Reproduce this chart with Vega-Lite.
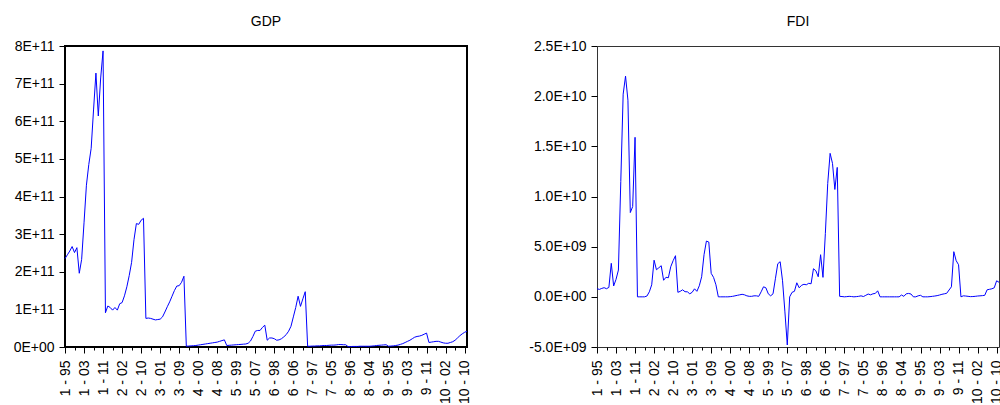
{
  "$schema": "https://vega.github.io/schema/vega-lite/v6.json",
  "background": "white",
  "padding": {"left": 12, "top": 14, "right": 0, "bottom": 0},
  "config": {
    "font": "Liberation Sans",
    "view": {"stroke": null},
    "axis": {"labelFont": "Liberation Sans", "labelFontSize": 14, "labelColor": "black", "tickColor": "black", "tickWidth": 1, "grid": false, "domain": false, "title": null, "labelFlush": false, "labelOverlap": false, "labelBound": false},
    "title": {"font": "Liberation Sans", "fontSize": 14, "fontWeight": "normal", "color": "black", "offset": 10, "anchor": "middle"},
    "concat": {"spacing": 55}
  },
  "data": {"values": [
    {"obs":"1 - 95","GDP":2.35e11,"FDI":0.81e9},
    {"obs":"1 - 96","GDP":2.45e11,"FDI":0.74e9},
    {"obs":"1 - 97","GDP":2.55e11,"FDI":0.84e9},
    {"obs":"1 - 98","GDP":2.67e11,"FDI":0.91e9},
    {"obs":"1 - 99","GDP":2.51e11,"FDI":0.81e9},
    {"obs":"1 - 00","GDP":2.64e11,"FDI":0.94e9},
    {"obs":"1 - 01","GDP":1.96e11,"FDI":3.34e9},
    {"obs":"1 - 02","GDP":2.33e11,"FDI":1.08e9},
    {"obs":"1 - 03","GDP":3.3e11,"FDI":1.74e9},
    {"obs":"1 - 04","GDP":4.3e11,"FDI":2.67e9},
    {"obs":"1 - 05","GDP":4.85e11,"FDI":11.5e9},
    {"obs":"1 - 06","GDP":5.28e11,"FDI":20.2e9},
    {"obs":"1 - 07","GDP":6.3e11,"FDI":22.0e9},
    {"obs":"1 - 08","GDP":7.28e11,"FDI":19.6e9},
    {"obs":"1 - 09","GDP":6.14e11,"FDI":8.4e9},
    {"obs":"1 - 10","GDP":7.15e11,"FDI":9.0e9},
    {"obs":"1 - 11","GDP":7.87e11,"FDI":15.9e9},
    {"obs":"2 - 95","GDP":0.91e11,"FDI":0},
    {"obs":"2 - 96","GDP":1.09e11,"FDI":0},
    {"obs":"2 - 97","GDP":1.05e11,"FDI":0},
    {"obs":"2 - 98","GDP":0.98e11,"FDI":0},
    {"obs":"2 - 99","GDP":1.05e11,"FDI":0.08e9},
    {"obs":"2 - 00","GDP":0.98e11,"FDI":0.5e9},
    {"obs":"2 - 01","GDP":1.15e11,"FDI":1.2e9},
    {"obs":"2 - 02","GDP":1.18e11,"FDI":3.65e9},
    {"obs":"2 - 03","GDP":1.36e11,"FDI":2.7e9},
    {"obs":"2 - 04","GDP":1.6e11,"FDI":2.9e9},
    {"obs":"2 - 05","GDP":1.9e11,"FDI":3.1e9},
    {"obs":"2 - 06","GDP":2.25e11,"FDI":1.65e9},
    {"obs":"2 - 07","GDP":2.85e11,"FDI":1.95e9},
    {"obs":"2 - 08","GDP":3.28e11,"FDI":1.9e9},
    {"obs":"2 - 09","GDP":3.26e11,"FDI":3.0e9},
    {"obs":"2 - 10","GDP":3.37e11,"FDI":3.6e9},
    {"obs":"2 - 11","GDP":3.42e11,"FDI":4.1e9},
    {"obs":"3 - 95","GDP":0.76e11,"FDI":0.45e9},
    {"obs":"3 - 96","GDP":0.77e11,"FDI":0.55e9},
    {"obs":"3 - 97","GDP":0.76e11,"FDI":0.7e9},
    {"obs":"3 - 98","GDP":0.74e11,"FDI":0.51e9},
    {"obs":"3 - 99","GDP":0.72e11,"FDI":0.5e9},
    {"obs":"3 - 00","GDP":0.73e11,"FDI":0.3e9},
    {"obs":"3 - 01","GDP":0.74e11,"FDI":0.45e9},
    {"obs":"3 - 02","GDP":0.8e11,"FDI":0.8e9},
    {"obs":"3 - 03","GDP":0.93e11,"FDI":0.55e9},
    {"obs":"3 - 04","GDP":1.07e11,"FDI":1.1e9},
    {"obs":"3 - 05","GDP":1.2e11,"FDI":2.0e9},
    {"obs":"3 - 06","GDP":1.35e11,"FDI":4.2e9},
    {"obs":"3 - 07","GDP":1.5e11,"FDI":5.56e9},
    {"obs":"3 - 08","GDP":1.62e11,"FDI":5.46e9},
    {"obs":"3 - 09","GDP":1.63e11,"FDI":2.34e9},
    {"obs":"3 - 10","GDP":1.72e11,"FDI":1.94e9},
    {"obs":"3 - 11","GDP":1.88e11,"FDI":1.2e9},
    {"obs":"4 - 95","GDP":0.02e11,"FDI":0},
    {"obs":"4 - 96","GDP":0.025e11,"FDI":0},
    {"obs":"4 - 97","GDP":0.03e11,"FDI":0},
    {"obs":"4 - 98","GDP":0.035e11,"FDI":0},
    {"obs":"4 - 99","GDP":0.04e11,"FDI":0},
    {"obs":"4 - 00","GDP":0.05e11,"FDI":0.02e9},
    {"obs":"4 - 01","GDP":0.06e11,"FDI":0.05e9},
    {"obs":"4 - 02","GDP":0.07e11,"FDI":0.1e9},
    {"obs":"4 - 03","GDP":0.08e11,"FDI":0.15e9},
    {"obs":"4 - 04","GDP":0.09e11,"FDI":0.2e9},
    {"obs":"4 - 05","GDP":0.1e11,"FDI":0.25e9},
    {"obs":"4 - 06","GDP":0.11e11,"FDI":0.2e9},
    {"obs":"4 - 07","GDP":0.12e11,"FDI":0.1e9},
    {"obs":"4 - 08","GDP":0.13e11,"FDI":0.05e9},
    {"obs":"4 - 09","GDP":0.15e11,"FDI":0.05e9},
    {"obs":"4 - 10","GDP":0.17e11,"FDI":0.1e9},
    {"obs":"4 - 11","GDP":0.19e11,"FDI":0.1e9},
    {"obs":"5 - 95","GDP":0.04e11,"FDI":0.05e9},
    {"obs":"5 - 96","GDP":0.045e11,"FDI":0.5e9},
    {"obs":"5 - 97","GDP":0.05e11,"FDI":1.0e9},
    {"obs":"5 - 98","GDP":0.055e11,"FDI":0.9e9},
    {"obs":"5 - 99","GDP":0.06e11,"FDI":0.3e9},
    {"obs":"5 - 00","GDP":0.065e11,"FDI":0.1e9},
    {"obs":"5 - 01","GDP":0.07e11,"FDI":0.3e9},
    {"obs":"5 - 02","GDP":0.075e11,"FDI":1.8e9},
    {"obs":"5 - 03","GDP":0.08e11,"FDI":3.3e9},
    {"obs":"5 - 04","GDP":0.1e11,"FDI":3.5e9},
    {"obs":"5 - 05","GDP":0.16e11,"FDI":1.6e9},
    {"obs":"5 - 06","GDP":0.28e11,"FDI":-1.5e9},
    {"obs":"5 - 07","GDP":0.42e11,"FDI":-4.8e9},
    {"obs":"5 - 08","GDP":0.44e11,"FDI":0},
    {"obs":"5 - 09","GDP":0.44e11,"FDI":0.45e9},
    {"obs":"5 - 10","GDP":0.52e11,"FDI":0.55e9},
    {"obs":"5 - 11","GDP":0.58e11,"FDI":1.4e9},
    {"obs":"6 - 95","GDP":0.18e11,"FDI":0.9e9},
    {"obs":"6 - 96","GDP":0.24e11,"FDI":1.15e9},
    {"obs":"6 - 97","GDP":0.24e11,"FDI":1.25e9},
    {"obs":"6 - 98","GDP":0.22e11,"FDI":1.2e9},
    {"obs":"6 - 99","GDP":0.18e11,"FDI":1.35e9},
    {"obs":"6 - 00","GDP":0.19e11,"FDI":1.3e9},
    {"obs":"6 - 01","GDP":0.22e11,"FDI":2.8e9},
    {"obs":"6 - 02","GDP":0.27e11,"FDI":2.6e9},
    {"obs":"6 - 03","GDP":0.33e11,"FDI":2.0e9},
    {"obs":"6 - 04","GDP":0.42e11,"FDI":4.2e9},
    {"obs":"6 - 05","GDP":0.55e11,"FDI":1.94e9},
    {"obs":"6 - 06","GDP":0.8e11,"FDI":6.3e9},
    {"obs":"6 - 07","GDP":1.05e11,"FDI":11.3e9},
    {"obs":"6 - 08","GDP":1.35e11,"FDI":14.3e9},
    {"obs":"6 - 09","GDP":1.08e11,"FDI":13.3e9},
    {"obs":"6 - 10","GDP":1.28e11,"FDI":10.7e9},
    {"obs":"6 - 11","GDP":1.47e11,"FDI":12.9e9},
    {"obs":"7 - 95","GDP":0.02e11,"FDI":0.05e9},
    {"obs":"7 - 96","GDP":0.02e11,"FDI":0.03e9},
    {"obs":"7 - 97","GDP":0.025e11,"FDI":0},
    {"obs":"7 - 98","GDP":0.025e11,"FDI":0.02e9},
    {"obs":"7 - 99","GDP":0.03e11,"FDI":0.05e9},
    {"obs":"7 - 00","GDP":0.03e11,"FDI":0.03e9},
    {"obs":"7 - 01","GDP":0.035e11,"FDI":0},
    {"obs":"7 - 02","GDP":0.04e11,"FDI":0.02e9},
    {"obs":"7 - 03","GDP":0.04e11,"FDI":0.05e9},
    {"obs":"7 - 04","GDP":0.045e11,"FDI":0.1e9},
    {"obs":"7 - 05","GDP":0.05e11,"FDI":0.03e9},
    {"obs":"7 - 06","GDP":0.05e11,"FDI":0.15e9},
    {"obs":"7 - 07","GDP":0.055e11,"FDI":0.28e9},
    {"obs":"7 - 08","GDP":0.065e11,"FDI":0.2e9},
    {"obs":"7 - 09","GDP":0.065e11,"FDI":0.3e9},
    {"obs":"7 - 10","GDP":0.06e11,"FDI":0.34e9},
    {"obs":"7 - 11","GDP":0.06e11,"FDI":0.6e9},
    {"obs":"8 - 95","GDP":0.01e11,"FDI":0},
    {"obs":"8 - 96","GDP":0.01e11,"FDI":0},
    {"obs":"8 - 97","GDP":0.015e11,"FDI":0},
    {"obs":"8 - 98","GDP":0.015e11,"FDI":0},
    {"obs":"8 - 99","GDP":0.015e11,"FDI":0},
    {"obs":"8 - 00","GDP":0.02e11,"FDI":0},
    {"obs":"8 - 01","GDP":0.02e11,"FDI":0},
    {"obs":"8 - 02","GDP":0.02e11,"FDI":0},
    {"obs":"8 - 03","GDP":0.02e11,"FDI":0},
    {"obs":"8 - 04","GDP":0.02e11,"FDI":0.18e9},
    {"obs":"8 - 05","GDP":0.025e11,"FDI":0.05e9},
    {"obs":"8 - 06","GDP":0.03e11,"FDI":0.3e9},
    {"obs":"8 - 07","GDP":0.04e11,"FDI":0.34e9},
    {"obs":"8 - 08","GDP":0.045e11,"FDI":0.28e9},
    {"obs":"8 - 09","GDP":0.05e11,"FDI":0},
    {"obs":"8 - 10","GDP":0.055e11,"FDI":0},
    {"obs":"8 - 11","GDP":0.06e11,"FDI":0.1e9},
    {"obs":"9 - 95","GDP":0.02e11,"FDI":0.15e9},
    {"obs":"9 - 96","GDP":0.025e11,"FDI":0},
    {"obs":"9 - 97","GDP":0.03e11,"FDI":0},
    {"obs":"9 - 98","GDP":0.04e11,"FDI":0},
    {"obs":"9 - 99","GDP":0.05e11,"FDI":0.02e9},
    {"obs":"9 - 00","GDP":0.07e11,"FDI":0.05e9},
    {"obs":"9 - 01","GDP":0.09e11,"FDI":0.08e9},
    {"obs":"9 - 02","GDP":0.12e11,"FDI":0.12e9},
    {"obs":"9 - 03","GDP":0.15e11,"FDI":0.18e9},
    {"obs":"9 - 04","GDP":0.18e11,"FDI":0.25e9},
    {"obs":"9 - 05","GDP":0.22e11,"FDI":0.3e9},
    {"obs":"9 - 06","GDP":0.26e11,"FDI":0.35e9},
    {"obs":"9 - 07","GDP":0.28e11,"FDI":0.68e9},
    {"obs":"9 - 08","GDP":0.29e11,"FDI":1.0e9},
    {"obs":"9 - 09","GDP":0.31e11,"FDI":4.5e9},
    {"obs":"9 - 10","GDP":0.34e11,"FDI":3.6e9},
    {"obs":"9 - 11","GDP":0.37e11,"FDI":3.2e9},
    {"obs":"10 - 95","GDP":0.12e11,"FDI":0},
    {"obs":"10 - 96","GDP":0.13e11,"FDI":0.1e9},
    {"obs":"10 - 97","GDP":0.14e11,"FDI":0.08e9},
    {"obs":"10 - 98","GDP":0.15e11,"FDI":0.05e9},
    {"obs":"10 - 99","GDP":0.15e11,"FDI":0.02e9},
    {"obs":"10 - 00","GDP":0.13e11,"FDI":0.03e9},
    {"obs":"10 - 01","GDP":0.11e11,"FDI":0.05e9},
    {"obs":"10 - 02","GDP":0.1e11,"FDI":0.08e9},
    {"obs":"10 - 03","GDP":0.1e11,"FDI":0.1e9},
    {"obs":"10 - 04","GDP":0.12e11,"FDI":0.12e9},
    {"obs":"10 - 05","GDP":0.14e11,"FDI":0.15e9},
    {"obs":"10 - 06","GDP":0.18e11,"FDI":0.7e9},
    {"obs":"10 - 07","GDP":0.24e11,"FDI":0.75e9},
    {"obs":"10 - 08","GDP":0.3e11,"FDI":0.8e9},
    {"obs":"10 - 09","GDP":0.35e11,"FDI":0.9e9},
    {"obs":"10 - 10","GDP":0.39e11,"FDI":1.6e9},
    {"obs":"10 - 11","GDP":0.42e11,"FDI":1.45e9}
  ]},
  "hconcat": [
    {
      "title": {"text": "GDP"},
      "width": 402,
      "height": 301,
      "view": {"stroke": "black", "strokeWidth": 2},
      "resolve": {"axis": {"x": "independent"}},
      "layer": [
        {
          "mark": {"type": "line", "color": "#0000ff", "strokeWidth": 1},
          "encoding": {
            "x": {"field": "obs", "type": "ordinal", "sort": null, "scale": {"type": "point", "padding": 0},
              "axis": {"orient": "bottom", "labelAngle": -90, "tickSize": 6, "labelPadding": 7,
                "values": ["1 - 95","1 - 03","1 - 11","2 - 02","2 - 10","3 - 01","3 - 09","4 - 00","4 - 08","5 - 99","5 - 07","6 - 98","6 - 06","7 - 97","7 - 05","8 - 96","8 - 04","9 - 95","9 - 03","9 - 11","10 - 02","10 - 10"]}},
            "y": {"field": "GDP", "type": "quantitative", "scale": {"domain": [0, 8e11], "nice": false, "zero": false},
              "axis": {"values": [0, 1e11, 2e11, 3e11, 4e11, 5e11, 6e11, 7e11, 8e11], "tickSize": 6, "labelPadding": 5,
                "labelExpr": "datum.value == 0 ? '0E+00' : format(datum.value / 1e11, 'd') + 'E+11'"}}
          }
        },
        {
          "mark": {"type": "point", "opacity": 0},
          "encoding": {
            "x": {"field": "obs", "type": "ordinal", "sort": null,
              "axis": {"orient": "bottom", "labels": false, "tickSize": 3,
                "values": ["1 - 99","1 - 07","2 - 98","2 - 06","3 - 97","3 - 05","4 - 96","4 - 04","5 - 95","5 - 03","5 - 11","6 - 02","6 - 10","7 - 01","7 - 09","8 - 00","8 - 08","9 - 99","9 - 07","10 - 98","10 - 06"]}}
          }
        }
      ]
    },
    {
      "title": {"text": "FDI"},
      "width": 402,
      "height": 301,
      "view": {"stroke": "#333333", "strokeWidth": 1},
      "resolve": {"axis": {"x": "independent"}},
      "layer": [
        {
          "mark": {"type": "line", "color": "#0000ff", "strokeWidth": 1},
          "encoding": {
            "x": {"field": "obs", "type": "ordinal", "sort": null, "scale": {"type": "point", "padding": 0},
              "axis": {"orient": "bottom", "labelAngle": -90, "tickSize": 6, "labelPadding": 7,
                "values": ["1 - 95","1 - 03","1 - 11","2 - 02","2 - 10","3 - 01","3 - 09","4 - 00","4 - 08","5 - 99","5 - 07","6 - 98","6 - 06","7 - 97","7 - 05","8 - 96","8 - 04","9 - 95","9 - 03","9 - 11","10 - 02","10 - 10"]}},
            "y": {"field": "FDI", "type": "quantitative", "scale": {"domain": [-5e9, 2.5e10], "nice": false, "zero": false},
              "axis": {"values": [-5e9, 0, 5e9, 1e10, 1.5e10, 2e10, 2.5e10], "tickSize": 6, "labelPadding": 5,
                "labelExpr": "datum.value == 0 ? '0.0E+00' : datum.value < 0 ? '-5.0E+09' : datum.value < 1e10 ? '5.0E+09' : format(datum.value / 1e10, '.1f') + 'E+10'"}}
          }
        },
        {
          "mark": {"type": "point", "opacity": 0},
          "encoding": {
            "x": {"field": "obs", "type": "ordinal", "sort": null,
              "axis": {"orient": "bottom", "labels": false, "tickSize": 3,
                "values": ["1 - 99","1 - 07","2 - 98","2 - 06","3 - 97","3 - 05","4 - 96","4 - 04","5 - 95","5 - 03","5 - 11","6 - 02","6 - 10","7 - 01","7 - 09","8 - 00","8 - 08","9 - 99","9 - 07","10 - 98","10 - 06"]}}
          }
        }
      ]
    }
  ]
}
